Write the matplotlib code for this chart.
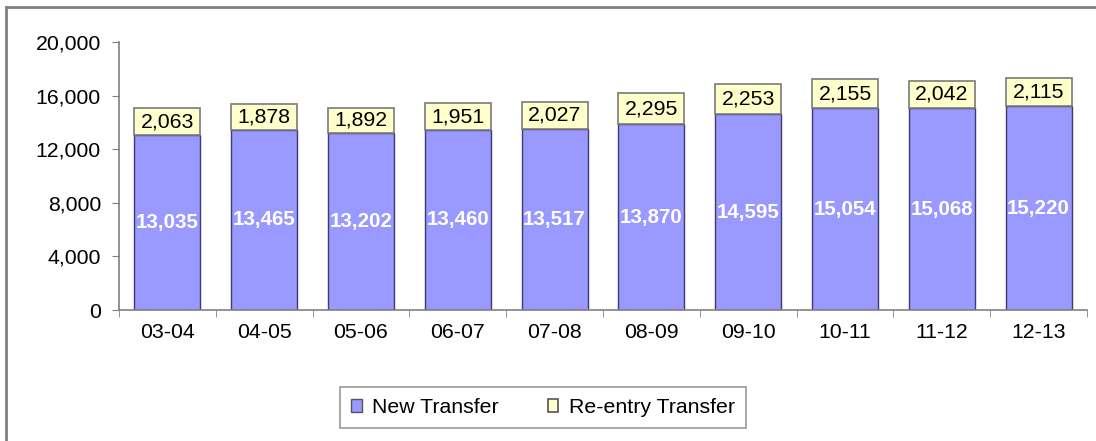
import matplotlib
matplotlib.use("Agg")
import matplotlib.pyplot as plt
from matplotlib.lines import Line2D
from matplotlib.ticker import FuncFormatter, FixedLocator
import numpy as np

plt.rcParams['font.family'] = ['Liberation Sans', 'DejaVu Sans']

years = ["03-04", "04-05", "05-06", "06-07", "07-08", "08-09", "09-10", "10-11", "11-12", "12-13"]
new_transfer = [13035, 13465, 13202, 13460, 13517, 13870, 14595, 15054, 15068, 15220]
reentry_transfer = [2063, 1878, 1892, 1951, 2027, 2295, 2253, 2155, 2042, 2115]
series_names = ["New Transfer", "Re-entry Transfer"]

W, H = 1096, 441
fig = plt.figure(figsize=(W / 100, H / 100), dpi=100)
ax = fig.add_axes([119 / W, 1 - 310 / H, (1087 - 119) / W, (310 - 42) / H])

FS = 15.3
x = np.arange(len(years))
bw = 0.68
blue = "#9999FF"
yellow = "#FFFFCC"
b1 = ax.bar(x, new_transfer, bw, color=blue, edgecolor="#3c3c6e", linewidth=1.0, label=series_names[0])
b2 = ax.bar(x, reentry_transfer, bw, bottom=new_transfer, color=yellow, edgecolor="#7a7a7a",
            linewidth=1.2, label=series_names[1])

for xi, v in zip(x, new_transfer):
    ax.text(xi, v / 2, f"{v:,}", ha="center", va="center", color="white",
            fontsize=FS - 0.5, fontweight="bold")
for xi, b, v in zip(x, new_transfer, reentry_transfer):
    ax.text(xi, b + v / 2, f"{v:,}", ha="center", va="center", color="black", fontsize=FS)

ax.set_xlim(-0.5, len(years) - 0.5)
ax.set_ylim(0, 20000)
ax.set_yticks(np.arange(0, 20001, 4000))
ax.yaxis.set_major_formatter(FuncFormatter(lambda v, p: f"{int(v):,}"))
ax.set_xticks(x)
ax.set_xticklabels(years)
ax.xaxis.set_minor_locator(FixedLocator(np.arange(-0.5, len(years), 1.0)))
ax.tick_params(axis="x", which="major", length=0, pad=9, labelsize=FS)
ax.tick_params(axis="x", which="minor", length=5, color="#808080", direction="out")
ax.tick_params(axis="y", length=5, color="#808080", labelsize=FS, pad=8)

for s in ["top", "right"]:
    ax.spines[s].set_visible(False)
for s in ["left", "bottom"]:
    ax.spines[s].set_color("#808080")
    ax.spines[s].set_linewidth(1.2)

# outer chart frame (partially visible)
fig.add_artist(Line2D([6 / W, 1.0], [1 - 7 / H, 1 - 7 / H], transform=fig.transFigure,
                      color="#808080", linewidth=2))
fig.add_artist(Line2D([6 / W, 6 / W], [0, 1 - 7 / H], transform=fig.transFigure,
                      color="#808080", linewidth=2))

leg = fig.legend(handles=[b1, b2], labels=series_names, loc="center",
                 bbox_to_anchor=(543 / W, 1 - 407.5 / H), ncol=2, frameon=True,
                 fancybox=False, edgecolor="#808080", fontsize=FS,
                 handlelength=0.5, handleheight=0.5, handletextpad=0.5,
                 columnspacing=2.3, borderpad=0.5, borderaxespad=0)
leg.get_frame().set_linewidth(1.2)
leg._legend_box.sep = 10
for h in leg.legend_handles:
    h.set_edgecolor("#555555")

fig.savefig("out.png", dpi=100)
